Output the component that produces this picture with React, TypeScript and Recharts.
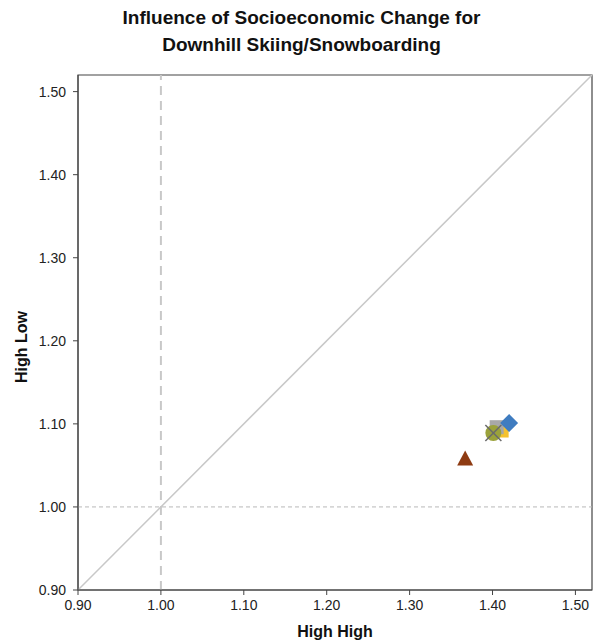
import {
  ScatterChart,
  Scatter,
  XAxis,
  YAxis,
  ReferenceLine,
  ReferenceArea,
} from "recharts";

const axisTicks = [0.9, 1.0, 1.1, 1.2, 1.3, 1.4, 1.5];
const axisDomain = [0.9, 1.52];

const diamondSeries = [{ x: 1.42, y: 1.101 }];
const triangleSeries = [{ x: 1.367, y: 1.057 }];
const yellowSeries = [{ x: 1.411, y: 1.092 }];
const greySeries = [{ x: 1.405, y: 1.096 }];
const olivSeries = [{ x: 1.401, y: 1.089 }];
const crossSeries = [{ x: 1.401, y: 1.089 }];

const font = "'Liberation Sans', Arial, Helvetica, sans-serif";

type P = { cx?: number; cy?: number };

const Diamond = ({ cx = 0, cy = 0 }: P) => (
  <polygon
    points={`${cx},${cy - 9} ${cx + 9},${cy} ${cx},${cy + 9} ${cx - 9},${cy}`}
    fill="#3f7cc0"
  />
);
const Triangle = ({ cx = 0, cy = 0 }: P) => (
  <polygon
    points={`${cx},${cy - 9} ${cx + 8},${cy + 6} ${cx - 8},${cy + 6}`}
    fill="#8e3b12"
  />
);
const YellowSq = ({ cx = 0, cy = 0 }: P) => (
  <rect x={cx - 7} y={cy - 7} width={14} height={14} fill="#f4c22f" />
);
const GreySq = ({ cx = 0, cy = 0 }: P) => (
  <rect x={cx - 7} y={cy - 7} width={14} height={14} fill="#a8a8a8" />
);
const Circle = ({ cx = 0, cy = 0 }: P) => (
  <circle cx={cx} cy={cy} r={8} fill="#9ba23b" />
);
const XMark = ({ cx = 0, cy = 0 }: P) => (
  <g stroke="#6b6b6b" strokeWidth={1.5}>
    <line x1={cx - 8} y1={cy - 8} x2={cx + 8} y2={cy + 8} />
    <line x1={cx - 8} y1={cy + 8} x2={cx + 8} y2={cy - 8} />
  </g>
);

const fmt = (v: number) => v.toFixed(2);

export default function App() {
  return (
    <div
      style={{
        position: "absolute",
        left: 0,
        top: 0,
        width: 603,
        height: 644,
        background: "#fff",
        fontFamily: font,
      }}
    >
      <div
        style={{
          position: "absolute",
          top: 4,
          left: 0,
          width: 603,
          textAlign: "center",
          fontSize: 19,
          fontWeight: "bold",
          lineHeight: "27px",
          color: "#111",
        }}
      >
        Influence of Socioeconomic Change for
        <br />
        Downhill Skiing/Snowboarding
      </div>
      <div
        style={{
          position: "absolute",
          left: 335,
          top: 632,
          transform: "translate(-50%, -50%)",
          fontSize: 16,
          fontWeight: "bold",
          color: "#111",
          whiteSpace: "nowrap",
        }}
      >
        High High
      </div>
      <div
        style={{
          position: "absolute",
          left: 22,
          top: 347,
          transform: "translate(-50%, -50%) rotate(-90deg)",
          fontSize: 16,
          fontWeight: "bold",
          color: "#111",
          whiteSpace: "nowrap",
        }}
      >
        High Low
      </div>
      <ScatterChart
        width={603}
        height={644}
        margin={{ top: 75, right: 11, bottom: 24, left: 28 }}
        style={{ position: "absolute", left: 0, top: 0 }}
      >
        <XAxis
          type="number"
          dataKey="x"
          domain={axisDomain}
          ticks={axisTicks}
          tickFormatter={fmt}
          allowDataOverflow
          height={30}
          tickSize={5}
          tickMargin={5}
          stroke="#444"
          tick={{ fill: "#222", fontSize: 14, fontFamily: font }}
        />
        <YAxis
          type="number"
          dataKey="y"
          domain={axisDomain}
          ticks={axisTicks}
          tickFormatter={fmt}
          allowDataOverflow
          width={50}
          tickSize={5}
          tickMargin={7}
          stroke="#444"
          tick={{ fill: "#222", fontSize: 14, fontFamily: font }}
        />
        <ReferenceArea
          x1={0.9}
          x2={1.52}
          y1={0.9}
          y2={1.52}
          fill="none"
          stroke="#444"
          strokeWidth={1.2}
        />
        <ReferenceLine
          segment={[
            { x: 0.9, y: 0.9 },
            { x: 1.52, y: 1.52 },
          ]}
          stroke="#c8c8c8"
          strokeWidth={1.5}
        />
        <ReferenceLine x={1.0} stroke="#c8c8c8" strokeWidth={2} strokeDasharray="9 6" />
        <ReferenceLine y={1.0} stroke="#b8b8b8" strokeWidth={1} strokeDasharray="4 3" />
        <Scatter data={yellowSeries} shape={YellowSq} isAnimationActive={false} />
        <Scatter data={greySeries} shape={GreySq} isAnimationActive={false} />
        <Scatter data={diamondSeries} shape={Diamond} isAnimationActive={false} />
        <Scatter data={triangleSeries} shape={Triangle} isAnimationActive={false} />
        <Scatter data={olivSeries} shape={Circle} isAnimationActive={false} />
        <Scatter data={crossSeries} shape={XMark} isAnimationActive={false} />
      </ScatterChart>
    </div>
  );
}
